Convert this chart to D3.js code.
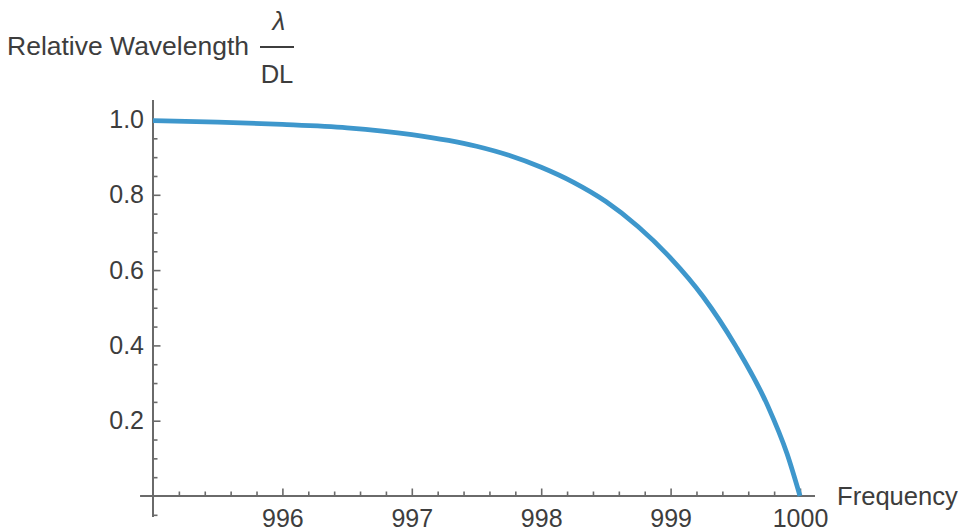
<!DOCTYPE html>
<html>
<head>
<meta charset="utf-8">
<script src="https://cdn.jsdelivr.net/npm/d3@7"></script>
<style>
  body { margin: 0; background: #fff; }
  text { font-family: "Liberation Sans", Arial, sans-serif; fill: #3d3d3d; }
</style>
</head>
<body>
<svg id="chart" width="964" height="531"></svg>
<script>
// values
var freq = [995, 995.5, 996, 996.5, 997, 997.5, 997.75, 998, 998.25, 998.5, 998.75, 999, 999.25, 999.5, 999.75, 999.9, 1000]
var relWave = [0.997, 0.993, 0.987, 0.978, 0.960, 0.929, 0.905, 0.873, 0.833, 0.782, 0.715, 0.632, 0.530, 0.400, 0.240, 0.112, 0]

var xMajor = [996, 997, 998, 999, 1000]
var yMajor = [0.2, 0.4, 0.6, 0.8, 1.0]

var svg = d3.select("#chart")

var x = d3.scaleLinear().domain([995, 1000]).range([153, 800])
var y = d3.scaleLinear().domain([0, 1]).range([496, 119.5])

var xMinor = d3.range(995.2, 999.9, 0.2).filter(v => Math.abs(v - Math.round(v)) > 0.05)
var yMinor = d3.range(-0.05, 1.0, 0.05).filter(v => Math.abs(v * 5 - Math.round(v * 5)) > 0.01)

var axisColor = "#6a6a6a"

// x axis (minor + major in separate groups so the second call doesn't wipe the first)
svg.append("g").attr("transform", `translate(0,${y(0)})`)
  .call(d3.axisBottom(x).tickValues(xMinor).tickSize(-4.5).tickFormat(""))
svg.append("g").attr("transform", `translate(0,${y(0)})`)
  .call(d3.axisBottom(x).tickValues(xMajor).tickSize(-7.5).tickPadding(13).tickFormat(d3.format("d")))
// y axis
svg.append("g").attr("transform", `translate(${x(995)},0)`)
  .call(d3.axisLeft(y).tickValues(yMinor).tickSize(-4.5).tickFormat(""))
svg.append("g").attr("transform", `translate(${x(995)},0)`)
  .call(d3.axisLeft(y).tickValues(yMajor).tickSize(-7.5).tickPadding(9).tickFormat(d3.format(".1f")))

svg.selectAll(".domain").remove()
svg.selectAll(".tick line").attr("stroke", axisColor).attr("stroke-width", 1.6)
svg.selectAll(".tick text").attr("font-size", 25).attr("fill", "#3d3d3d")
  .style("font-family", '"Liberation Sans", Arial, sans-serif')

svg.append("line")
  .attr("x1", x(994.9)).attr("x2", x(1000.116))
  .attr("y1", y(0)).attr("y2", y(0))
  .attr("stroke", axisColor).attr("stroke-width", 2)
svg.append("line")
  .attr("x1", x(995)).attr("x2", x(995))
  .attr("y1", y(-0.056)).attr("y2", y(1.052))
  .attr("stroke", axisColor).attr("stroke-width", 2)

// curve
var line = d3.line()
  .x((d, i) => x(freq[i]))
  .y(d => y(d))
  .curve(d3.curveMonotoneX)

svg.append("path")
  .datum(relWave)
  .attr("d", line)
  .attr("fill", "none")
  .attr("stroke", "#3e97cc")
  .attr("stroke-width", 4.8)

// axis labels
svg.append("text")
  .attr("x", 837).attr("y", 505)
  .attr("font-size", 25.6)
  .text("Frequency")

svg.append("text")
  .attr("x", 7).attr("y", 55)
  .attr("font-size", 26.5)
  .text("Relative Wavelength")

svg.append("text")
  .attr("x", 279).attr("y", 30)
  .attr("font-size", 26)
  .attr("font-style", "italic")
  .attr("text-anchor", "middle")
  .text("λ")
svg.append("line")
  .attr("x1", 260).attr("x2", 294)
  .attr("y1", 47).attr("y2", 47)
  .attr("stroke", "#3d3d3d").attr("stroke-width", 1.8)
svg.append("text")
  .attr("x", 277).attr("y", 83)
  .attr("font-size", 25.6)
  .attr("text-anchor", "middle")
  .text("DL")
</script>
</body>
</html>
